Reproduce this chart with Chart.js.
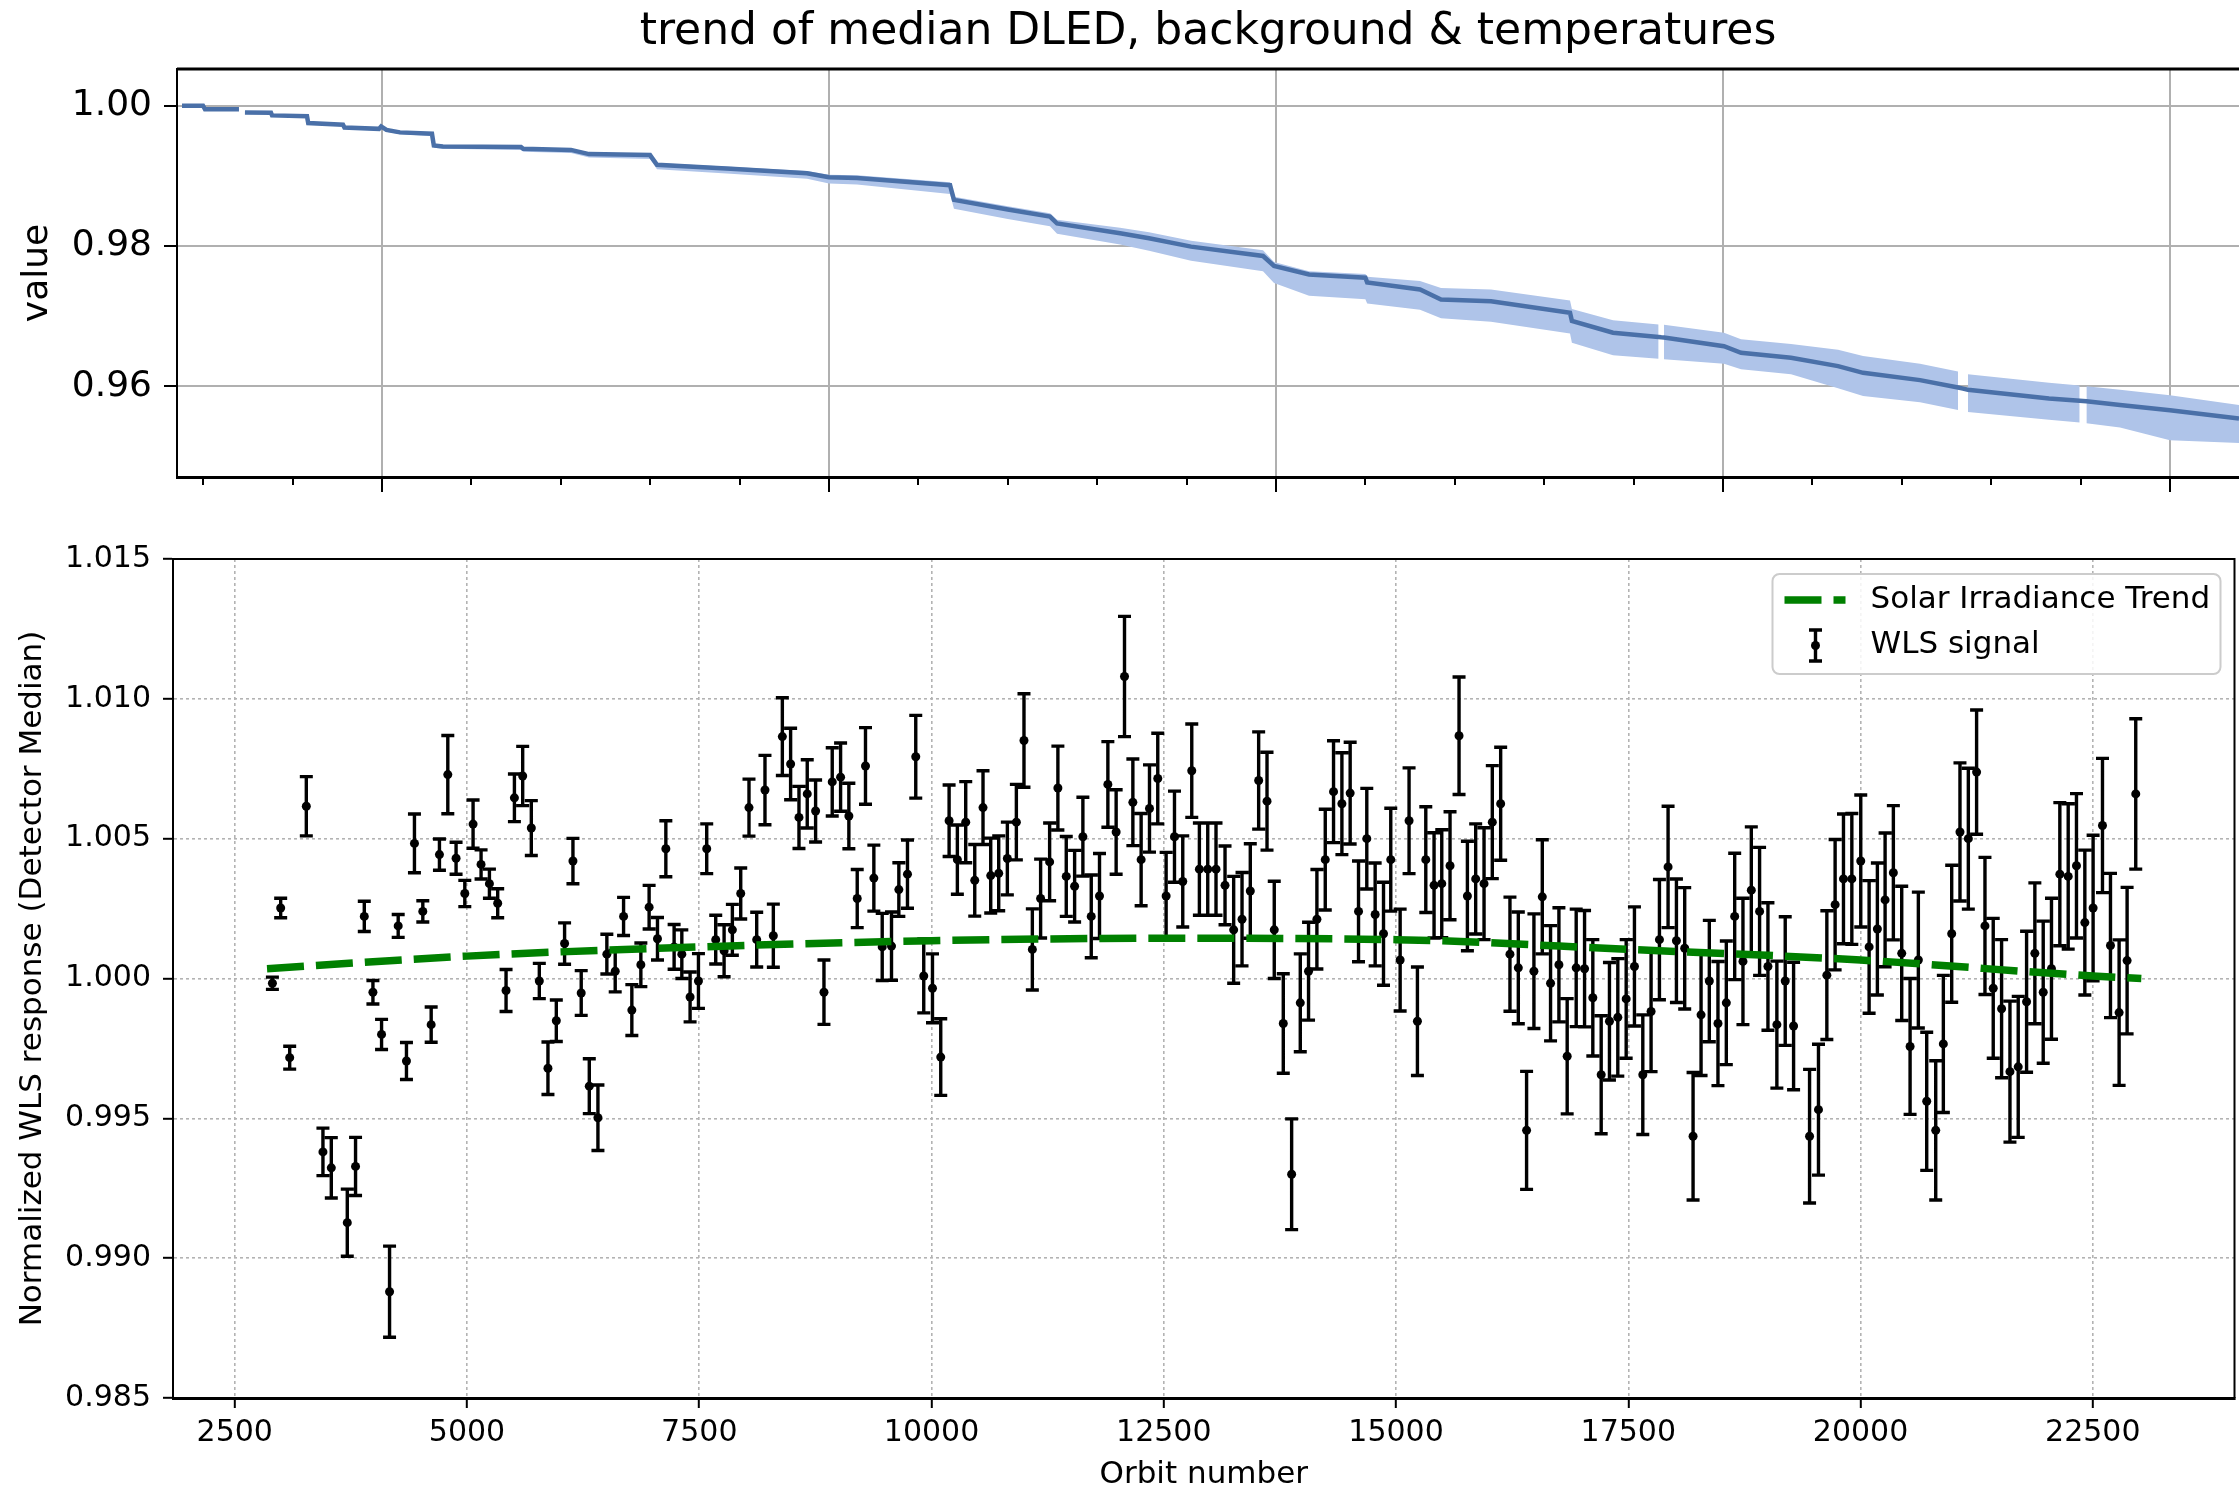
<!DOCTYPE html>
<html>
<head>
<meta charset="utf-8">
<title>trend of median DLED, background &amp; temperatures</title>
<script src="https://cdn.jsdelivr.net/npm/chart.js@4"></script>
<style>
  html, body { margin: 0; padding: 0; background: #fff; }
  #wrap { position: relative; width: 2239px; height: 1492px; overflow: hidden; background: #fff; }
  canvas { position: absolute; left: 0; }
  #dled { top: 0; }
  #wls { top: 540px; }
</style>
</head>
<body>
<div id="wrap">
  <canvas id="dled" width="2239" height="540"></canvas>
  <canvas id="wls" width="2239" height="952"></canvas>
</div>
<script>
const FONT = "'DejaVu Sans', 'Liberation Sans', sans-serif";

// ---- Upper panel: median DLED trend and its spread ----
const dledOrbit = [2763, 2998, 3020, 3400, 3430, 3467, 3758, 3770, 4161, 4175, 4564, 4580, 4966, 4990, 5050,
  5201, 5559, 5580, 5682, 6555, 6580, 7114, 7316, 7998, 8076, 8900, 9754, 10000, 10313, 11354, 11398,
  12000, 12472, 12551, 13256, 13580, 14050, 14855, 14978, 15370, 16000, 16020, 16611, 16846, 17405,
  18289, 18310, 18770, 19280, 19310, 19340, 20011, 20202, 20761, 21287, 21567, 22204, 22630, 22685,
  22740, 23647, 23990, 24027, 24065, 24441, 25000, 25772];
const dledMedian = [1.00000, 1.00000, 0.99950, 0.99950, null, 0.99905, 0.99900, 0.99862, 0.99850, 0.99752,
  0.99730, 0.99690, 0.99670, 0.99705, 0.99655, 0.99620, 0.99600, 0.99433, 0.99420, 0.99410, 0.99386,
  0.99370, 0.99310, 0.99296, 0.99157, 0.99100, 0.99038, 0.98980, 0.98970, 0.98867, 0.98657, 0.98520,
  0.98419, 0.98320, 0.98181, 0.98110, 0.97990, 0.97857, 0.97714, 0.97594, 0.97547, 0.97480, 0.97380,
  0.97237, 0.97210, 0.97048, 0.96930, 0.96762, 0.96700, 0.96697, 0.96695, 0.96570, 0.96476, 0.96405,
  0.96286, 0.96190, 0.96086, 0.95980, 0.95965, 0.95948, 0.95824, 0.95790, 0.95787, 0.95783, 0.95730,
  0.95657, 0.95540];
const dledLow = [0.99990, 0.99990, 0.99940, 0.99940, null, 0.99895, 0.99885, 0.99845, 0.99830, 0.99735,
  0.99710, 0.99670, 0.99645, 0.99680, 0.99630, 0.99595, 0.99570, 0.99400, 0.99385, 0.99370, 0.99345,
  0.99325, 0.99260, 0.99240, 0.99095, 0.99030, 0.98960, 0.98890, 0.98875, 0.98740, 0.98530, 0.98385,
  0.98280, 0.98175, 0.98020, 0.97930, 0.97790, 0.97640, 0.97470, 0.97290, 0.97240, 0.97180, 0.97090,
  0.96970, 0.96920, 0.96750, 0.96620, 0.96440, 0.96390, null, 0.96385, 0.96320, 0.96240, 0.96170,
  0.95970, 0.95860, 0.95770, 0.95660, null, 0.95630, 0.95520, 0.95480, null, 0.95470, 0.95410,
  0.95230, 0.95190];
const dledHigh = [1.00010, 1.00010, 0.99960, 0.99960, null, 0.99915, 0.99910, 0.99872, 0.99860, 0.99762,
  0.99742, 0.99702, 0.99683, 0.99718, 0.99668, 0.99634, 0.99615, 0.99450, 0.99437, 0.99428, 0.99405,
  0.99390, 0.99332, 0.99320, 0.99182, 0.99128, 0.99070, 0.99015, 0.99008, 0.98910, 0.98700, 0.98565,
  0.98468, 0.98372, 0.98260, 0.98195, 0.98075, 0.97940, 0.97770, 0.97640, 0.97600, 0.97560, 0.97500,
  0.97400, 0.97380, 0.97220, 0.97100, 0.96940, 0.96880, null, 0.96875, 0.96760, 0.96670, 0.96600,
  0.96520, 0.96430, 0.96320, 0.96210, null, 0.96170, 0.96050, 0.96010, null, 0.96000, 0.95950,
  0.95870, 0.95730];
const dledYTicks = [0.96, 0.98, 1.00];
const dledMajorTicks = [5000, 10000, 15000, 20000, 25000];
const dledMinorTicks = [3000, 4000, 6000, 7000, 8000, 9000, 11000, 12000, 13000, 14000,
  16000, 17000, 18000, 19000, 21000, 22000, 23000, 24000];

// ---- Lower panel: WLS signal with error bars and the solar irradiance trend ----
const wlsOrbit = [2905, 2994, 3091, 3270, 3449, 3539, 3711, 3800, 3894, 3987, 4080, 4166, 4259, 4348, 4434,
  4524, 4614, 4703, 4793, 4882, 4976, 5065, 5151, 5241, 5330, 5420, 5510, 5599, 5692, 5778, 5871, 5961,
  6050, 6140, 6229, 6316, 6409, 6505, 6595, 6685, 6774,
  6871, 6960, 7050, 7140, 7229, 7312, 7401, 7491, 7580, 7677, 7767, 7856, 7946, 8035, 8118, 8207, 8297,
  8394, 8483, 8573, 8662, 8752, 8842, 8931, 9021, 9110, 9200, 9289, 9379, 9469, 9569, 9648, 9741, 9830,
  9916, 10010, 10099, 10189, 10278, 10368, 10465, 10554, 10637, 10723, 10816,
  10913, 10995, 11085, 11174, 11271, 11360, 11450, 11540, 11629, 11719, 11808, 11898, 11987, 12077,
  12167, 12256, 12346, 12435, 12525, 12615, 12704, 12801, 12883, 12973, 13062, 13159, 13252, 13342,
  13431, 13521, 13611, 13689, 13786, 13876, 13969, 14058, 14148, 14238, 14327, 14417, 14506, 14596,
  14685, 14775, 14865, 14943,
  15044, 15140, 15230, 15320, 15409, 15492, 15581, 15678, 15768, 15857, 15947, 16036, 16126, 16226,
  16316, 16405, 16484, 16574, 16663, 16753, 16842, 16939, 17029, 17118, 17208, 17297, 17387, 17477,
  17566, 17656, 17745, 17835, 17928, 18018, 18107, 18197, 18283, 18372, 18465, 18555, 18645, 18734,
  18824, 18913, 19003,
  19099, 19189, 19279, 19451, 19547, 19637, 19726, 19816, 19906, 20002, 20092, 20181, 20264, 20353,
  20443, 20533, 20622, 20712, 20809, 20891, 20981, 21070, 21160, 21249, 21339, 21428, 21518, 21608,
  21697, 21787, 21876, 21966, 22055, 22145, 22235, 22324, 22414, 22503, 22604, 22690, 22783, 22869, 22962];
const wlsValue = [0.99983, 1.00252, 0.99717, 1.00616, 0.99380, 0.99323, 0.99127, 0.99328, 1.00222, 0.99951,
  0.99800, 0.98880, 1.00188, 0.99705, 1.00483, 1.00240, 0.99835, 1.00443, 1.00729, 1.00430, 1.00304,
  1.00552, 1.00408, 1.00339, 1.00269, 0.99957, 1.00646, 1.00724, 1.00538, 0.99991, 0.99679, 0.99849,
  1.00125, 1.00420, 0.99948, 0.99615, 0.99502, 1.00087, 1.00026, 1.00222, 0.99887,
  1.00049, 1.00255, 1.00142, 1.00464, 1.00113, 1.00087, 0.99934, 0.99991, 1.00464, 1.00139, 1.00099,
  1.00174, 1.00304, 1.00611, 1.00139, 1.00674, 1.00153, 1.00865, 1.00767, 1.00576, 1.00660, 1.00599,
  0.99951, 1.00703, 1.00720, 1.00581, 1.00286, 1.00760, 1.00359, 1.00113, 1.00116, 1.00318, 1.00373,
  1.00793, 1.00009, 0.99965, 0.99719, 1.00564, 1.00425, 1.00559, 1.00351, 1.00611, 1.00368, 1.00376,
  1.00429,
  1.00559, 1.00851, 1.00104, 1.00286, 1.00417, 1.00681, 1.00365, 1.00330, 1.00507, 1.00222, 1.00295,
  1.00694, 1.00524, 1.01080, 1.00630, 1.00425, 1.00608, 1.00715, 1.00295, 1.00507, 1.00347, 1.00743,
  1.00391, 1.00391, 1.00391, 1.00333, 1.00174, 1.00212, 1.00313, 1.00708, 1.00634, 1.00174, 0.99839,
  0.99300, 0.99913, 1.00026, 1.00212, 1.00425, 1.00668, 1.00625, 1.00663, 1.00240, 1.00500, 1.00229,
  1.00160, 1.00425,
  1.00066, 1.00564, 0.99847, 1.00425, 1.00333, 1.00339, 1.00403, 1.00868, 1.00295, 1.00356, 1.00339,
  1.00559, 1.00625, 1.00087, 1.00038, 0.99457, 1.00026, 1.00292, 0.99983, 1.00049, 0.99722, 1.00038,
  1.00035, 0.99931, 0.99656, 0.99847, 0.99861, 0.99927, 1.00043, 0.99656, 0.99882, 1.00139, 1.00399,
  1.00135, 1.00108, 0.99436, 0.99870, 0.99991, 0.99839, 0.99913, 1.00222, 1.00061, 1.00316, 1.00240,
  1.00043,
  0.99835, 0.99991, 0.99830, 0.99436, 0.99531, 1.00012, 1.00264, 1.00356, 1.00356, 1.00420, 1.00113,
  1.00177, 1.00281, 1.00378, 1.00090, 0.99757, 1.00066, 0.99561, 0.99457, 0.99766, 1.00160, 1.00524,
  1.00500, 1.00738, 1.00188, 0.99965, 0.99892, 0.99667, 0.99684, 0.99917, 1.00090, 0.99951, 1.00035,
  1.00373, 1.00365, 1.00403, 1.00200, 1.00252, 1.00547, 1.00118, 0.99878, 1.00064, 1.00660];
const wlsError = [0.00022, 0.00035, 0.00041, 0.00106, 0.00085, 0.00108, 0.00120, 0.00104, 0.00054, 0.00042,
  0.00054, 0.00163, 0.00041, 0.00066, 0.00105, 0.00038, 0.00063, 0.00056, 0.00140, 0.00057, 0.00047,
  0.00086, 0.00052, 0.00052, 0.00052, 0.00075, 0.00085, 0.00106, 0.00098, 0.00063, 0.00094, 0.00074,
  0.00074, 0.00081, 0.00080, 0.00098, 0.00117, 0.00071, 0.00074, 0.00068, 0.00091,
  0.00078, 0.00078, 0.00076, 0.00100, 0.00080, 0.00087, 0.00089, 0.00098, 0.00089, 0.00087, 0.00093,
  0.00091, 0.00091, 0.00102, 0.00098, 0.00124, 0.00113, 0.00139, 0.00128, 0.00111, 0.00122, 0.00111,
  0.00115, 0.00122, 0.00122, 0.00117, 0.00104, 0.00137, 0.00118, 0.00120, 0.00122, 0.00096, 0.00122,
  0.00148, 0.00132, 0.00123, 0.00137, 0.00128, 0.00124, 0.00145, 0.00128, 0.00132, 0.00134, 0.00134,
  0.00130,
  0.00135, 0.00167, 0.00145, 0.00141, 0.00139, 0.00150, 0.00143, 0.00128, 0.00141, 0.00148, 0.00152,
  0.00153, 0.00151, 0.00215, 0.00155, 0.00165, 0.00156, 0.00162, 0.00156, 0.00163, 0.00163, 0.00167,
  0.00165, 0.00165, 0.00165, 0.00141, 0.00191, 0.00167, 0.00169, 0.00174, 0.00175, 0.00174, 0.00178,
  0.00198, 0.00175, 0.00175, 0.00178, 0.00180, 0.00182, 0.00182, 0.00182, 0.00180, 0.00180, 0.00184,
  0.00184, 0.00184,
  0.00182, 0.00189, 0.00194, 0.00189, 0.00188, 0.00193, 0.00193, 0.00210, 0.00196, 0.00197, 0.00200,
  0.00202, 0.00202, 0.00204, 0.00200, 0.00211, 0.00205, 0.00204, 0.00206, 0.00204, 0.00206, 0.00210,
  0.00208, 0.00208, 0.00211, 0.00210, 0.00210, 0.00212, 0.00213, 0.00214, 0.00215, 0.00215, 0.00217,
  0.00221, 0.00217, 0.00228, 0.00217, 0.00217, 0.00222, 0.00221, 0.00226, 0.00226, 0.00226, 0.00229,
  0.00228,
  0.00227, 0.00230, 0.00228, 0.00239, 0.00234, 0.00230, 0.00233, 0.00232, 0.00234, 0.00236, 0.00237,
  0.00236, 0.00239, 0.00240, 0.00240, 0.00243, 0.00243, 0.00247, 0.00249, 0.00245, 0.00245, 0.00247,
  0.00252, 0.00222, 0.00245, 0.00250, 0.00247, 0.00252, 0.00252, 0.00252, 0.00252, 0.00254, 0.00252,
  0.00256, 0.00260, 0.00258, 0.00259, 0.00260, 0.00240, 0.00258, 0.00260, 0.00262, 0.00269];
const trendOrbit = [2847, 5000, 7500, 10000, 12500, 15000, 17500, 20000, 22500, 23022];
const trendValue = [1.00035, 1.00080, 1.00113, 1.00135, 1.00144, 1.00139, 1.00104, 1.00066, 1.00009, 1.00000];
const wlsXTicks = [2500, 5000, 7500, 10000, 12500, 15000, 17500, 20000, 22500];
const wlsYTicks = [0.985, 0.990, 0.995, 1.000, 1.005, 1.010, 1.015];

const toPoints = (xs, ys) => xs.map((x, i) => ({ x: x, y: ys[i] }));
const setTicks = list => scale => { scale.ticks = list.map(v => ({ value: v })); };

// top spine plus the major/minor tick marks under the upper panel
const dledFrame = {
  id: 'dledFrame',
  afterDraw(chart) {
    const { ctx, chartArea: a, scales: { x } } = chart;
    ctx.save();
    ctx.strokeStyle = '#000';
    ctx.lineWidth = 3;
    ctx.beginPath();
    ctx.moveTo(a.left, a.top);
    ctx.lineTo(a.right, a.top);
    ctx.stroke();
    ctx.lineWidth = 2;
    ctx.beginPath();
    dledMajorTicks.forEach(v => {
      const px = Math.round(x.getPixelForValue(v));
      ctx.moveTo(px, a.bottom); ctx.lineTo(px, a.bottom + 15);
    });
    dledMinorTicks.forEach(v => {
      const px = Math.round(x.getPixelForValue(v));
      ctx.moveTo(px, a.bottom); ctx.lineTo(px, a.bottom + 8);
    });
    ctx.stroke();
    ctx.restore();
  }
};

new Chart(document.getElementById('dled'), {
  type: 'line',
  data: {
    datasets: [
      { label: 'median DLED', data: toPoints(dledOrbit, dledMedian), borderColor: '#4a70a8',
        borderWidth: 4.5, pointRadius: 0, fill: false, order: 0 },
      { label: 'upper', data: toPoints(dledOrbit, dledHigh), borderColor: 'rgba(0,0,0,0)',
        borderWidth: 0, pointRadius: 0, fill: false, order: 2 },
      { label: 'lower', data: toPoints(dledOrbit, dledLow), borderColor: 'rgba(0,0,0,0)',
        borderWidth: 0, pointRadius: 0, backgroundColor: '#afc4e9', fill: '-1', order: 1 }
    ]
  },
  options: {
    responsive: false,
    animation: false,
    events: [],
    layout: { padding: 0 },
    plugins: {
      legend: { display: false },
      tooltip: { enabled: false },
      title: {
        display: true,
        text: 'trend of median DLED, background & temperatures',
        fullSize: false,
        color: '#000',
        font: { family: FONT, size: 44, weight: 'normal', lineHeight: 1.2 },
        padding: { top: 6.4, bottom: 9.8 }
      }
    },
    scales: {
      x: {
        type: 'linear', min: 2707, max: 25772,
        afterBuildTicks: setTicks(dledMajorTicks),
        afterFit: s => { s.height = 63; },
        ticks: { display: false },
        grid: { color: '#b0b0b0', lineWidth: 2, drawTicks: false },
        border: { display: true, color: '#000', width: 3 }
      },
      y: {
        type: 'linear', min: 0.94704, max: 1.00524,
        afterBuildTicks: setTicks(dledYTicks),
        afterFit: s => { s.width = 177; s.paddingTop = 0; s.paddingBottom = 0; },
        ticks: { color: '#000', font: { family: FONT, size: 36 }, padding: 12, callback: v => v.toFixed(2) },
        grid: { color: '#b0b0b0', lineWidth: 2, tickLength: 13, tickColor: '#000', tickWidth: 2 },
        border: { display: true, color: '#000', width: 2 },
        title: { display: true, text: 'value', color: '#000',
          font: { family: FONT, size: 36, lineHeight: 1 }, padding: { top: 20, bottom: 0 } }
      }
    }
  },
  plugins: [dledFrame]
});

// vertical error bars with caps, drawn below the markers
const errorBars = {
  id: 'errorBars',
  beforeDatasetsDraw(chart) {
    const { ctx, scales: { x, y } } = chart;
    ctx.save();
    ctx.strokeStyle = '#000';
    ctx.lineWidth = 3.4;
    ctx.lineCap = 'butt';
    ctx.beginPath();
    for (let i = 0; i < wlsOrbit.length; i++) {
      const px = x.getPixelForValue(wlsOrbit[i]);
      const top = y.getPixelForValue(wlsValue[i] + wlsError[i]);
      const bot = y.getPixelForValue(wlsValue[i] - wlsError[i]);
      ctx.moveTo(px, top); ctx.lineTo(px, bot);
      ctx.moveTo(px - 6.5, top); ctx.lineTo(px + 6.5, top);
      ctx.moveTo(px - 6.5, bot); ctx.lineTo(px + 6.5, bot);
    }
    ctx.stroke();
    ctx.restore();
  }
};

// top and right spines of the lower panel
const wlsFrame = {
  id: 'wlsFrame',
  afterDraw(chart) {
    const { ctx, chartArea: a } = chart;
    ctx.save();
    ctx.strokeStyle = '#000';
    ctx.lineWidth = 2;
    ctx.beginPath();
    ctx.moveTo(a.left, a.top); ctx.lineTo(a.right, a.top); ctx.lineTo(a.right, a.bottom);
    ctx.stroke();
    ctx.restore();
  }
};

// legend box in the upper right corner of the lower panel
const wlsLegend = {
  id: 'wlsLegend',
  afterDraw(chart) {
    const { ctx, chartArea: a } = chart;
    const w = 448, h = 100;
    const left = a.right - 14 - w, top = a.top + 15;
    const trend = chart.data.datasets[0], signal = chart.data.datasets[1];
    ctx.save();
    ctx.beginPath();
    ctx.roundRect(left, top, w, h, 7);
    ctx.fillStyle = 'rgba(255,255,255,0.85)';
    ctx.fill();
    ctx.lineWidth = 2;
    ctx.strokeStyle = '#cccccc';
    ctx.stroke();

    ctx.strokeStyle = trend.borderColor;
    ctx.lineWidth = trend.borderWidth;
    ctx.lineCap = 'butt';
    ctx.setLineDash(trend.borderDash);
    ctx.beginPath();
    ctx.moveTo(left + 12, top + 26); ctx.lineTo(left + 73, top + 26);
    ctx.stroke();
    ctx.setLineDash([]);

    const ex = left + 43, ey1 = top + 56, ey2 = top + 87, ey = (ey1 + ey2) / 2;
    ctx.strokeStyle = '#000';
    ctx.lineWidth = 3.4;
    ctx.beginPath();
    ctx.moveTo(ex, ey1); ctx.lineTo(ex, ey2);
    ctx.moveTo(ex - 6.5, ey1); ctx.lineTo(ex + 6.5, ey1);
    ctx.moveTo(ex - 6.5, ey2); ctx.lineTo(ex + 6.5, ey2);
    ctx.stroke();
    ctx.beginPath();
    ctx.arc(ex, ey, 4.5, 0, Math.PI * 2);
    ctx.fillStyle = '#000';
    ctx.fill();

    ctx.fillStyle = '#000';
    ctx.font = '31px ' + FONT;
    ctx.textAlign = 'left';
    ctx.textBaseline = 'middle';
    ctx.fillText(trend.label, left + 98, top + 26);
    ctx.fillText(signal.label, left + 98, top + 71);
    ctx.restore();
  }
};

new Chart(document.getElementById('wls'), {
  type: 'scatter',
  data: {
    datasets: [
      { type: 'line', label: 'Solar Irradiance Trend', data: toPoints(trendOrbit, trendValue),
        borderColor: '#008000', borderWidth: 7.5, borderDash: [37, 12], borderCapStyle: 'butt',
        cubicInterpolationMode: 'monotone', pointRadius: 0, fill: false, order: 0 },
      { type: 'scatter', label: 'WLS signal', data: toPoints(wlsOrbit, wlsValue),
        pointRadius: 4.5, pointBorderWidth: 0, pointBackgroundColor: '#000', pointBorderColor: '#000', order: 1 }
    ]
  },
  options: {
    responsive: false,
    animation: false,
    events: [],
    layout: { padding: { top: 19, right: 1, left: 0, bottom: 0 } },
    plugins: { legend: { display: false }, tooltip: { enabled: false } },
    scales: {
      x: {
        type: 'linear', min: 1835, max: 24025,
        afterBuildTicks: setTicks(wlsXTicks),
        afterFit: s => { s.height = 94; s.paddingLeft = 0; s.paddingRight = 0; },
        ticks: { color: '#000', font: { family: FONT, size: 30, lineHeight: 1.2 }, padding: 7,
          maxRotation: 0, autoSkip: false, callback: v => String(v) },
        grid: { color: '#b3b3b3', lineWidth: 1.6, tickLength: 10, tickColor: '#000', tickWidth: 2 },
        border: { display: true, color: '#000', width: 3, dash: [3, 3] },
        title: { display: true, text: 'Orbit number', color: '#000',
          font: { family: FONT, size: 31, lineHeight: 1 }, padding: { top: 0, bottom: 1.5 } }
      },
      y: {
        type: 'linear', min: 0.985, max: 1.015,
        afterBuildTicks: setTicks(wlsYTicks),
        afterFit: s => { s.width = 173; s.paddingTop = 0; s.paddingBottom = 0; },
        ticks: { color: '#000', font: { family: FONT, size: 30 }, padding: 12, callback: v => v.toFixed(3) },
        grid: { color: '#b3b3b3', lineWidth: 1.6, tickLength: 10, tickColor: '#000', tickWidth: 2 },
        border: { display: true, color: '#000', width: 2, dash: [3, 3] },
        title: { display: true, text: 'Normalized WLS response (Detector Median)', color: '#000',
          font: { family: FONT, size: 31, lineHeight: 1 }, padding: { top: 17.5, bottom: 0 } }
      }
    }
  },
  plugins: [errorBars, wlsFrame, wlsLegend]
});
</script>
</body>
</html>
